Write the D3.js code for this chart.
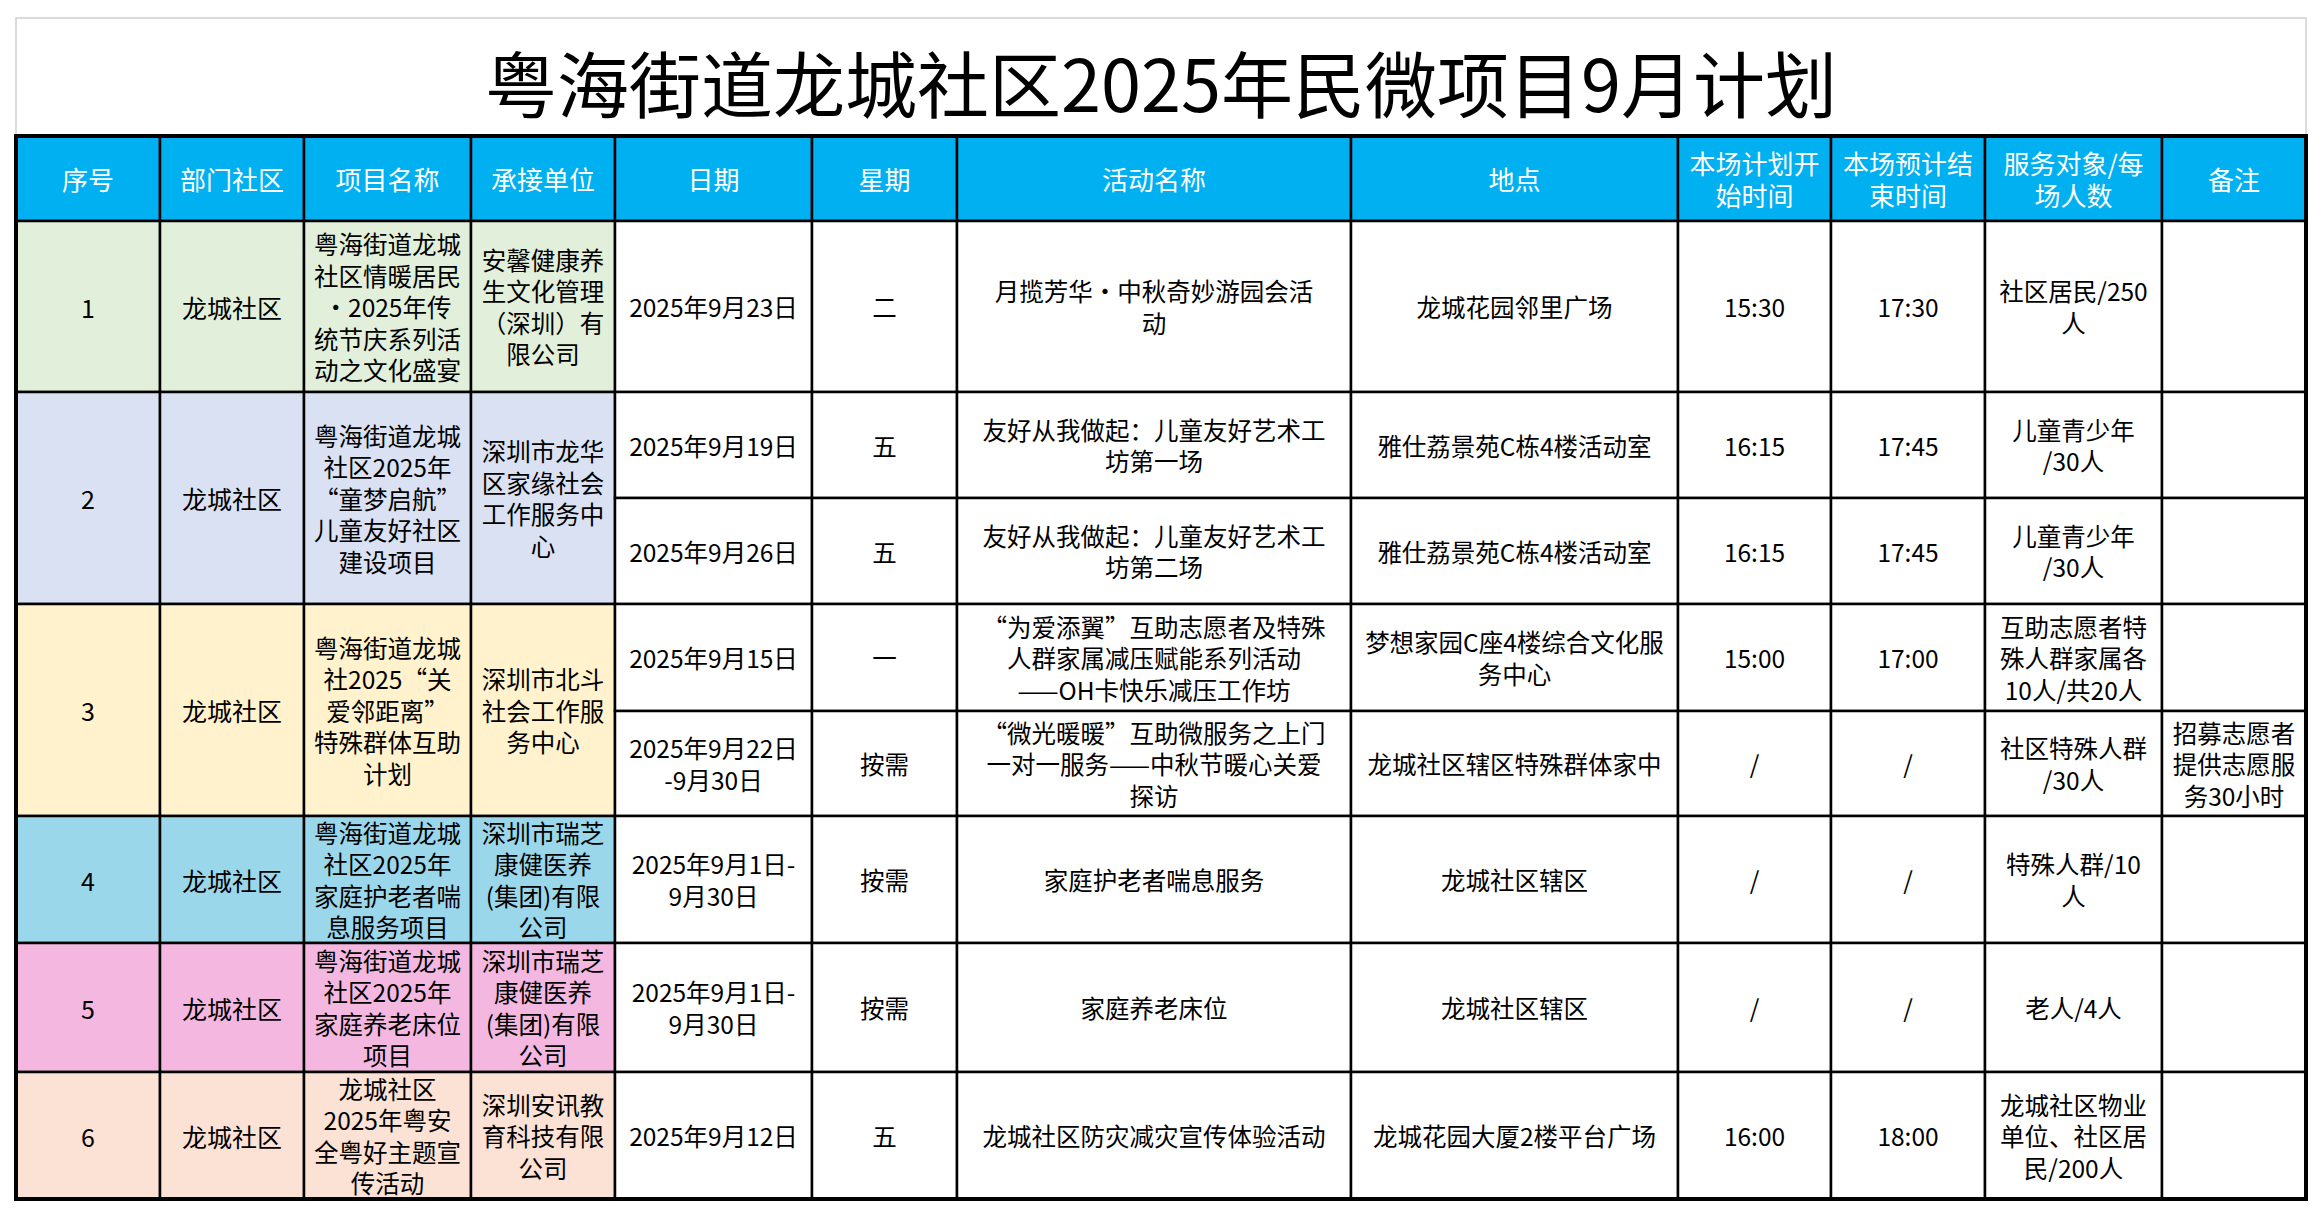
<!DOCTYPE html><html><head><meta charset="utf-8"><script src="https://d3js.org/d3.v7.min.js"></script>
<style>body{margin:0;background:#fff}</style></head><body><svg id="c" width="2322" height="1216"></svg><script>
const title="粤海街道龙城社区2025年民微项目9月计划";
const headers=[["序号"],["部门社区"],["项目名称"],["承接单位"],["日期"],["星期"],["活动名称"],["地点"],["本场计划开","始时间"],["本场预计结","束时间"],["服务对象/每","场人数"],["备注"]];
const colEdges=[16,160,304,471,615,812,957,1351,1678,1831,1985,2162,2306];
const rowEdges=[136,221,392,498,604,711,816,943,1072,1199];
const groupColors=["#E2EFDA","#D9E1F2","#FFF2CC","#9BD7EB","#F4B8E0","#FBE2D5"];
const groups=[
 {id:"1",dept:"龙城社区",proj:["粤海街道龙城","社区情暖居民","•2025年传","统节庆系列活","动之文化盛宴"],org:["安馨健康养","生文化管理","（深圳）有","限公司"],rows:[0]},
 {id:"2",dept:"龙城社区",proj:["粤海街道龙城","社区2025年","“童梦启航”","儿童友好社区","建设项目"],org:["深圳市龙华","区家缘社会","工作服务中","心"],rows:[1,2]},
 {id:"3",dept:"龙城社区",proj:["粤海街道龙城","社2025“关","爱邻距离”","特殊群体互助","计划"],org:["深圳市北斗","社会工作服","务中心"],rows:[3,4]},
 {id:"4",dept:"龙城社区",proj:["粤海街道龙城","社区2025年","家庭护老者喘","息服务项目"],org:["深圳市瑞芝","康健医养","(集团)有限","公司"],rows:[5]},
 {id:"5",dept:"龙城社区",proj:["粤海街道龙城","社区2025年","家庭养老床位","项目"],org:["深圳市瑞芝","康健医养","(集团)有限","公司"],rows:[6]},
 {id:"6",dept:"龙城社区",proj:["龙城社区","2025年粤安","全粤好主题宣","传活动"],org:["深圳安讯教","育科技有限","公司"],rows:[7]}
];
const dates=[["2025年9月23日"],["2025年9月19日"],["2025年9月26日"],["2025年9月15日"],["2025年9月22日","-9月30日"],["2025年9月1日-","9月30日"],["2025年9月1日-","9月30日"],["2025年9月12日"]];
const weekdays=["二","五","五","一","按需","按需","按需","五"];
const activities=[["月揽芳华•中秋奇妙游园会活","动"],["友好从我做起：儿童友好艺术工","坊第一场"],["友好从我做起：儿童友好艺术工","坊第二场"],["“为爱添翼”互助志愿者及特殊","人群家属减压赋能系列活动","——OH卡快乐减压工作坊"],["“微光暖暖”互助微服务之上门","一对一服务——中秋节暖心关爱","探访"],["家庭护老者喘息服务"],["家庭养老床位"],["龙城社区防灾减灾宣传体验活动"]];
const places=[["龙城花园邻里广场"],["雅仕荔景苑C栋4楼活动室"],["雅仕荔景苑C栋4楼活动室"],["梦想家园C座4楼综合文化服","务中心"],["龙城社区辖区特殊群体家中"],["龙城社区辖区"],["龙城社区辖区"],["龙城花园大厦2楼平台广场"]];
const starts=["15:30","16:15","16:15","15:00","/","/","/","16:00"];
const ends=["17:30","17:45","17:45","17:00","/","/","/","18:00"];
const targets=[["社区居民/250","人"],["儿童青少年","/30人"],["儿童青少年","/30人"],["互助志愿者特","殊人群家属各","10人/共20人"],["社区特殊人群","/30人"],["特殊人群/10","人"],["老人/4人"],["龙城社区物业","单位、社区居","民/200人"]];
const notes=[[],[],[],[],["招募志愿者","提供志愿服","务30小时"],[],[],[]];

const svg=d3.select("#c");
const F="'Noto Sans CJK SC','Noto Sans',sans-serif";
const x=d3.scaleOrdinal().domain(d3.range(13)).range(colEdges);
const y=d3.scaleOrdinal().domain(d3.range(10)).range(rowEdges);
svg.append("rect").attr("x",16).attr("y",18).attr("width",2290).attr("height",118).attr("fill","#fff").attr("stroke","#d0d0d0").attr("stroke-width",1.5);
svg.append("text").attr("x",1161).attr("y",80).attr("text-anchor","middle").attr("dominant-baseline","central").attr("font-family",F).attr("font-size",72).attr("fill","#000").text(title);
function cell(c0,c1,r0,r1,lines,fill,color,size){
  const X0=x(c0),X1=x(c1),Y0=y(r0),Y1=y(r1);
  svg.append("rect").attr("x",X0).attr("y",Y0).attr("width",X1-X0).attr("height",Y1-Y0).attr("fill",fill).attr("stroke","#000").attr("stroke-width",2.5);
  const lh=31.5,cy=(Y0+Y1)/2,n=lines.length;
  lines.forEach((l,i)=>svg.append("text").attr("x",(X0+X1)/2).attr("y",cy+(i-(n-1)/2)*lh).attr("text-anchor","middle").attr("dominant-baseline","central").attr("font-family",F).attr("font-size",size).attr("fill",color).text(l));
}
headers.forEach((h,i)=>cell(i,i+1,0,1,h,"#00B0F0","#fff",26));
groups.forEach((g,gi)=>{
  const r0=g.rows[0]+1,r1=g.rows[g.rows.length-1]+2,col=groupColors[gi];
  cell(0,1,r0,r1,[g.id],col,"#000",25);
  cell(1,2,r0,r1,[g.dept],col,"#000",25);
  cell(2,3,r0,r1,g.proj,col,"#000",24.5);
  cell(3,4,r0,r1,g.org,col,"#000",24.5);
});
dates.forEach((d,r)=>{
  const cols=[d,[weekdays[r]],activities[r],places[r],[starts[r]],[ends[r]],targets[r],notes[r]];
  cols.forEach((t,k)=>cell(4+k,5+k,r+1,r+2,t,"#fff","#000",24.5));
});
svg.append("rect").attr("x",16).attr("y",136).attr("width",2290).attr("height",1063).attr("fill","none").attr("stroke","#000").attr("stroke-width",4);
</script></body></html>
